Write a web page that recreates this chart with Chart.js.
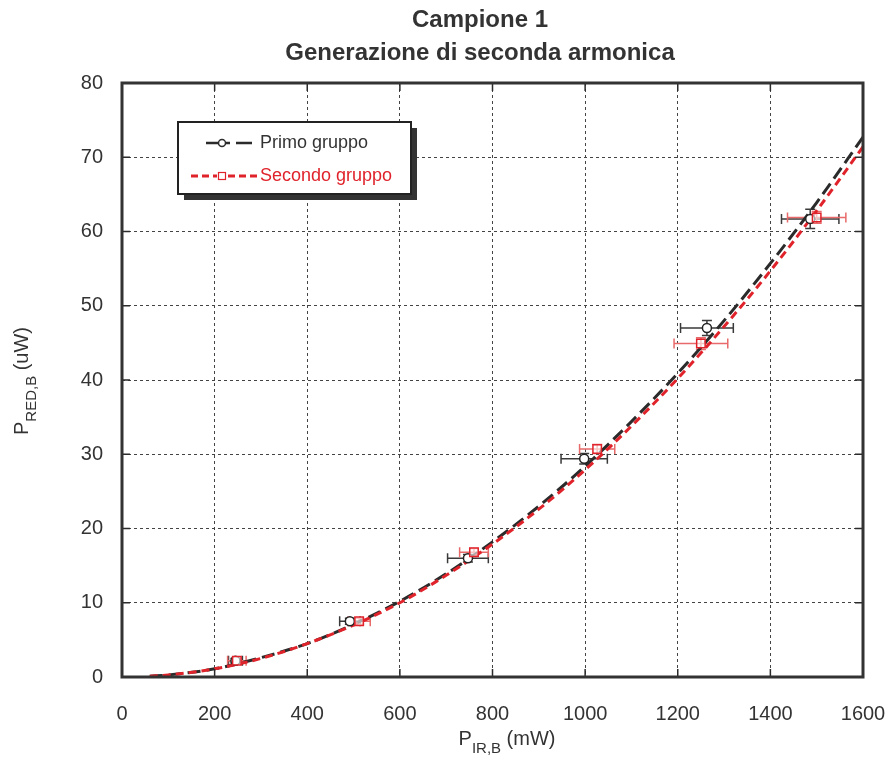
<!DOCTYPE html>
<html>
<head>
<meta charset="utf-8">
<style>
  html, body { margin: 0; padding: 0; background: #fff; }
  #wrap { width: 890px; height: 769px; position: relative; }
</style>
<script src="https://cdn.jsdelivr.net/npm/chart.js@4/dist/chart.umd.min.js"></script>
</head>
<body>
<div id="wrap"><canvas id="c" width="890" height="769"></canvas></div>
<script>
// Measured points: infrared power (mW) vs red power (uW)
const primoX    = [245, 492, 747, 998, 1263, 1486];
const primoY    = [2.2, 7.5, 16.0, 29.4, 47.0, 61.7];
const primoXErr = [15, 22, 44, 50, 57, 62];
const primoYErr = [0.3, 0.4, 0.5, 0.7, 1.0, 1.3];

const secondoX    = [248, 512, 760, 1026, 1250, 1500];
const secondoY    = [2.2, 7.5, 16.8, 30.7, 44.9, 61.9];
const secondoXErr = [20, 24, 31, 38, 58, 63];
const secondoYErr = [0.3, 0.4, 0.5, 0.6, 0.8, 0.8];

// Fitted curves
const fitX  = [60, 100, 200, 300, 400, 500, 600, 700, 800, 900, 1000, 1100, 1200, 1300, 1400, 1500, 1600];
const fit1Y = [0.1, 0.28, 1.1, 2.6, 4.5, 7.1, 10.2, 13.9, 18.2, 23.0, 28.4, 34.4, 40.9, 48.0, 55.7, 63.9, 72.7];
const fit2Y = [0.1, 0.28, 1.1, 2.5, 4.5, 7.0, 10.0, 13.7, 17.9, 22.6, 27.9, 33.8, 40.2, 47.2, 54.7, 62.8, 71.4];

const xTicks = [0, 200, 400, 600, 800, 1000, 1200, 1400, 1600];
const yTicks = [0, 10, 20, 30, 40, 50, 60, 70, 80];

const titleLines = ['Campione 1', 'Generazione di seconda armonica'];
const seriesNames = ['Primo gruppo', 'Secondo gruppo'];

const DARK = '#2b2b2b';
const RED = '#e0232b';
const RED_ERR = '#e86a6a';
const FONT = '"Liberation Sans", Arial, sans-serif';

const pts = (xs, ys) => xs.map((x, i) => ({ x: x, y: ys[i] }));

// Error bars, drawn beneath the curves and markers
const errorBars = {
  id: 'errorBars',
  beforeDatasetsDraw(chart) {
    const { ctx, scales: { x, y } } = chart;
    const sets = [
      { xs: primoX, ys: primoY, ex: primoXErr, ey: primoYErr, color: '#3a3a3a' },
      { xs: secondoX, ys: secondoY, ex: secondoXErr, ey: secondoYErr, color: RED_ERR }
    ];
    ctx.save();
    ctx.lineWidth = 1.5;
    sets.forEach(s => {
      ctx.strokeStyle = s.color;
      s.xs.forEach((v, i) => {
        const px = x.getPixelForValue(v), py = y.getPixelForValue(s.ys[i]);
        const x0 = x.getPixelForValue(v - s.ex[i]), x1 = x.getPixelForValue(v + s.ex[i]);
        const y0 = y.getPixelForValue(s.ys[i] - s.ey[i]), y1 = y.getPixelForValue(s.ys[i] + s.ey[i]);
        ctx.beginPath();
        ctx.moveTo(x0, py); ctx.lineTo(x1, py);
        ctx.moveTo(x0, py - 5); ctx.lineTo(x0, py + 5);
        ctx.moveTo(x1, py - 5); ctx.lineTo(x1, py + 5);
        ctx.moveTo(px, y0); ctx.lineTo(px, y1);
        ctx.moveTo(px - 5, y0); ctx.lineTo(px + 5, y0);
        ctx.moveTo(px - 5, y1); ctx.lineTo(px + 5, y1);
        ctx.stroke();
      });
    });
    ctx.restore();
  }
};

// Frame, inward ticks, titles and legend
const decorations = {
  id: 'decorations',
  afterDraw(chart) {
    const { ctx, chartArea: a, scales: { x, y } } = chart;
    ctx.save();
    // inward tick marks on all four sides
    ctx.strokeStyle = DARK;
    ctx.lineWidth = 1.5;
    ctx.beginPath();
    xTicks.forEach(v => {
      const px = x.getPixelForValue(v);
      ctx.moveTo(px, a.bottom); ctx.lineTo(px, a.bottom - 8);
      ctx.moveTo(px, a.top); ctx.lineTo(px, a.top + 8);
    });
    yTicks.forEach(v => {
      const py = y.getPixelForValue(v);
      ctx.moveTo(a.left, py); ctx.lineTo(a.left + 8, py);
      ctx.moveTo(a.right, py); ctx.lineTo(a.right - 8, py);
    });
    ctx.stroke();
    // frame
    ctx.lineWidth = 3;
    ctx.strokeStyle = '#333';
    ctx.strokeRect(a.left, a.top, a.right - a.left, a.bottom - a.top);

    // title
    ctx.fillStyle = '#333';
    ctx.font = 'bold 24px ' + FONT;
    ctx.textAlign = 'center';
    ctx.textBaseline = 'alphabetic';
    ctx.fillText(titleLines[0], 480, 27);
    ctx.fillText(titleLines[1], 480, 60);

    // axis titles with subscripts
    const drawSub = (main, sub, rest, cx, cy) => {
      ctx.font = '20px ' + FONT;
      const w1 = ctx.measureText(main).width;
      ctx.font = '15px ' + FONT;
      const w2 = ctx.measureText(sub).width;
      ctx.font = '20px ' + FONT;
      const w3 = ctx.measureText(rest).width;
      let sx = cx - (w1 + w2 + w3) / 2;
      ctx.textAlign = 'left';
      ctx.textBaseline = 'alphabetic';
      ctx.fillStyle = '#333';
      ctx.font = '20px ' + FONT;
      ctx.fillText(main, sx, cy);
      ctx.font = '15px ' + FONT;
      ctx.fillText(sub, sx + w1, cy + 8);
      ctx.font = '20px ' + FONT;
      ctx.fillText(rest, sx + w1 + w2, cy);
    };
    drawSub('P', 'IR,B', ' (mW)', 507, 745);
    ctx.save();
    ctx.translate(28, 381);
    ctx.rotate(-Math.PI / 2);
    drawSub('P', 'RED,B', ' (uW)', 0, 0);
    ctx.restore();

    // legend box with shadow
    const bx = 178, by = 122, bw = 233, bh = 72;
    ctx.fillStyle = '#333';
    ctx.fillRect(bx + 6, by + 6, bw, bh);
    ctx.fillStyle = '#fff';
    ctx.fillRect(bx, by, bw, bh);
    ctx.lineWidth = 2;
    ctx.strokeStyle = '#222';
    ctx.strokeRect(bx, by, bw, bh);

    // legend entry 1
    const ly1 = 143, ly2 = 176;
    ctx.lineWidth = 2.5;
    ctx.strokeStyle = DARK;
    ctx.beginPath();
    ctx.moveTo(206, ly1); ctx.lineTo(218, ly1);
    ctx.moveTo(226, ly1); ctx.lineTo(230, ly1);
    ctx.moveTo(236, ly1); ctx.lineTo(252, ly1);
    ctx.stroke();
    ctx.lineWidth = 1.5;
    ctx.fillStyle = '#fff';
    ctx.beginPath(); ctx.arc(222, ly1, 3.5, 0, Math.PI * 2); ctx.fill(); ctx.stroke();
    ctx.font = '18px ' + FONT;
    ctx.fillStyle = '#333';
    ctx.textBaseline = 'middle';
    ctx.fillText(seriesNames[0], 260, ly1);

    // legend entry 2
    ctx.lineWidth = 3;
    ctx.strokeStyle = RED;
    ctx.setLineDash([7, 4]);
    ctx.beginPath(); ctx.moveTo(191, ly2); ctx.lineTo(217, ly2); ctx.moveTo(228, ly2); ctx.lineTo(258, ly2); ctx.stroke();
    ctx.setLineDash([]);
    ctx.lineWidth = 1.2;
    ctx.fillStyle = '#fff';
    ctx.fillRect(218.5, ly2 - 3.5, 7, 7);
    ctx.strokeRect(218.5, ly2 - 3.5, 7, 7);
    ctx.fillStyle = RED;
    ctx.fillText(seriesNames[1], 260, ly2);
    ctx.restore();
  }
};

new Chart(document.getElementById('c'), {
  type: 'scatter',
  data: {
    datasets: [
      {
        label: seriesNames[0] + ' fit',
        data: pts(fitX, fit1Y),
        showLine: true,
        borderColor: DARK,
        borderWidth: 3,
        borderDash: [13, 6],
        pointRadius: 0,
        cubicInterpolationMode: 'monotone',
        order: 4
      },
      {
        label: seriesNames[1] + ' fit',
        data: pts(fitX, fit2Y),
        showLine: true,
        borderColor: RED,
        borderWidth: 3,
        borderDash: [8, 5],
        pointRadius: 0,
        cubicInterpolationMode: 'monotone',
        order: 3
      },
      {
        label: seriesNames[0],
        data: pts(primoX, primoY),
        pointStyle: 'circle',
        pointRadius: 4.5,
        pointBackgroundColor: '#fff',
        pointBorderColor: '#222',
        pointBorderWidth: 1.5,
        order: 2
      },
      {
        label: seriesNames[1],
        data: pts(secondoX, secondoY),
        pointStyle: 'rect',
        pointRadius: 6,
        pointBackgroundColor: 'rgba(255,255,255,0.6)',
        pointBorderColor: RED,
        pointBorderWidth: 1.5,
        order: 1
      }
    ]
  },
  options: {
    responsive: false,
    animation: false,
    layout: { padding: { top: 83, right: 27, left: 0, bottom: 0 } },
    plugins: { legend: { display: false }, tooltip: { enabled: false }, title: { display: false } },
    scales: {
      x: {
        type: 'linear', min: 0, max: 1600,
        afterFit: s => { s.height = 92; s.paddingLeft = 0; s.paddingRight = 0; },
        afterBuildTicks: s => { s.ticks = xTicks.map(v => ({ value: v })); },
        grid: { color: '#444', lineWidth: 1, drawTicks: false },
        border: { display: false, dash: [3, 3] },
        ticks: { color: '#333', font: { family: FONT, size: 20 }, padding: 25, maxRotation: 0,
                 callback: v => String(v) }
      },
      y: {
        type: 'linear', min: 0, max: 80,
        afterFit: s => { s.width = 122; s.paddingTop = 0; s.paddingBottom = 0; },
        afterBuildTicks: s => { s.ticks = yTicks.map(v => ({ value: v })); },
        grid: { color: '#444', lineWidth: 1, drawTicks: false },
        border: { display: false, dash: [3, 3] },
        ticks: { color: '#333', font: { family: FONT, size: 20 }, padding: 19,
                 callback: v => String(v) }
      }
    }
  },
  plugins: [errorBars, decorations]
});
</script>
</body>
</html>
